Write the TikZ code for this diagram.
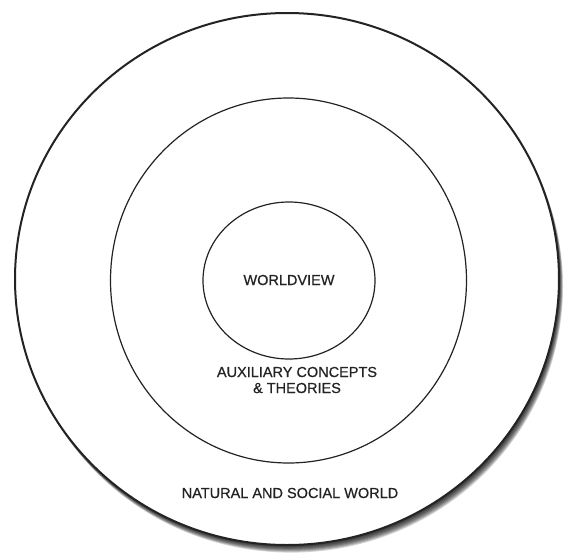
\documentclass[tikz,border=0pt]{standalone}
\usepackage{fontspec}
\setmainfont{Liberation Sans}
\usepackage{xcolor}
\usetikzlibrary{shapes.geometric, positioning}
\definecolor{inkgray}{RGB}{35, 35, 35}

\begin{document}
\begin{tikzpicture}[
  x=1pt, y=-1pt,
  ring/.style={ellipse, draw=inkgray, inner sep=0pt, outer sep=0pt, line width=1.2pt},
  outerring/.style={ring, line width=2pt, fill=white},
  label/.style={text=inkgray, font=\fontsize{14.5}{16}\selectfont\addfontfeature{FakeBold=0.6},
                align=center, inner sep=0pt, anchor=base}
]
  \useasboundingbox (0,0) rectangle (566,555);
  \fill[white] (0,0) rectangle (566,555);

  % soft shadow under the outer ring
  \foreach \i in {8,...,1}
    \fill[black, opacity=0.17] (287+0.5*\i, 279+0.95*\i) ellipse [x radius=272, y radius=266];

  \node[outerring, minimum width=544pt, minimum height=532pt] (world) at (287,279) {};
  \node[ring, minimum width=356pt, minimum height=365pt]      (aux)   at (288.5,280.5) {};
  \node[ring, minimum width=172pt, minimum height=157pt]      (view)  at (289,280.5) {};

  \node[label] (viewtxt)  at (289,285) {WORLDVIEW};
  \node[label] (auxtxt)   at (297,393) {AUXILIARY CONCEPTS\\\& THEORIES};
  \node[label] (worldtxt) at (290,498) {NATURAL AND SOCIAL WORLD};
\end{tikzpicture}
\end{document}
